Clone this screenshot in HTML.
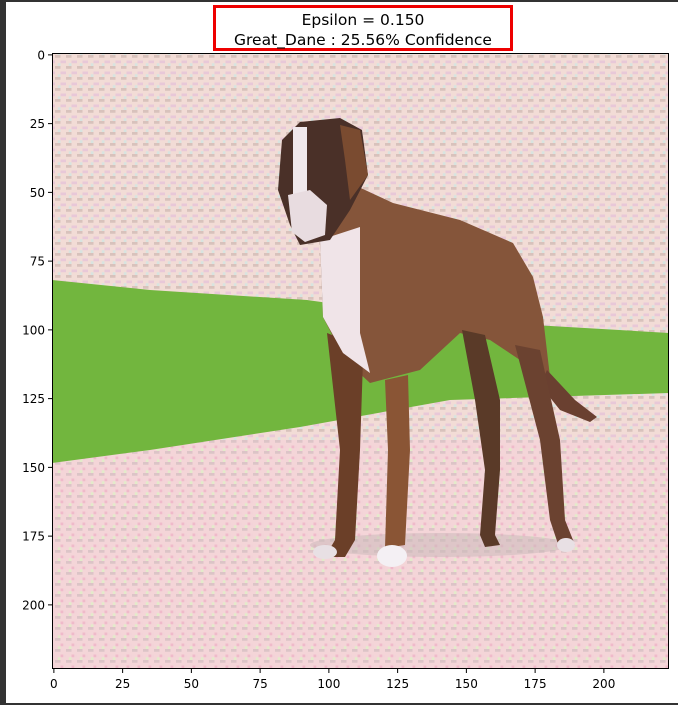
<!DOCTYPE html>
<html><head><meta charset="utf-8"><style>
html,body{margin:0;padding:0;background:#fff;}
body{width:678px;height:705px;overflow:hidden;position:relative;font-family:"DejaVu Sans","Liberation Sans",sans-serif;}
</style></head><body>
<svg width="678" height="705" viewBox="0 0 678 705" xmlns="http://www.w3.org/2000/svg">
<defs>
<pattern id="noise" width="11" height="11" patternUnits="userSpaceOnUse">
<rect width="11" height="11" fill="#f2dcd6"/>
<rect x="0" y="0" width="5.5" height="2.75" fill="#d8c2bc"/>
<rect x="5.5" y="5.5" width="5.5" height="2.75" fill="#e8c8d8"/>
<rect x="2.75" y="8.25" width="2.75" height="2.75" fill="#d8e4e0"/>
</pattern>
<pattern id="noise2" width="11" height="11" patternUnits="userSpaceOnUse">
<rect width="11" height="11" fill="#f4d4d8"/>
<rect x="0" y="0" width="5.5" height="2.75" fill="#dcc4c8"/>
<rect x="5.5" y="5.5" width="2.75" height="2.75" fill="#f0b8c8"/>
<rect x="2.75" y="8.25" width="2.75" height="2.75" fill="#e4ecc8"/>
</pattern>
</defs>
<rect x="0" y="0" width="678" height="2" fill="#333"/>
<rect x="0" y="0" width="6" height="705" fill="#333"/>
<rect x="0" y="703" width="678" height="2" fill="#333"/>

<g>
<rect x="52" y="53" width="617" height="616" fill="url(#noise)"/>
<rect x="52" y="440" width="617" height="229" fill="url(#noise2)" opacity="0.9"/>
<polygon points="52,280 150,290 307,300 450,320 669,333 669,393 450,400 300,427 150,450 52,463" fill="#72b63e"/>
<ellipse cx="440" cy="545" rx="130" ry="12" fill="#c8b8b8" opacity="0.5"/>
<g>
<polygon points="350,183 393,203 460,220 513,243 533,277 543,317 550,377 540,380 520,360 490,340 460,333 420,370 370,383 345,360 323,317 320,240 345,200" fill="#85553a"/>
<polygon points="547,370 575,400 597,417 590,422 560,410 540,385" fill="#6a4030"/>
<polygon points="327,333 345,340 363,360 360,450 355,540 345,557 325,557 335,540 340,450" fill="#6b3f28"/>
<polygon points="385,380 408,375 410,450 405,545 385,548 388,450" fill="#8a5535"/>
<polygon points="462,330 485,335 500,400 500,470 495,535 500,545 485,547 480,535 485,470 475,400" fill="#5a3a28"/>
<polygon points="515,345 540,350 560,440 565,520 575,545 560,550 550,520 540,440" fill="#6b4230"/>
<polygon points="320,240 360,227 360,333 370,373 343,353 323,317" fill="#f0e4e8"/>
<polygon points="282,140 300,122 340,118 362,130 368,175 350,210 330,240 300,245 290,225 278,190" fill="#4a3028"/>
<polygon points="340,125 360,130 368,175 350,200 345,160" fill="#7a4b30"/>
<rect x="293" y="127" width="14" height="73" fill="#f0e8ec"/>
<polygon points="288,195 310,190 327,205 325,235 305,242 292,232" fill="#e8dce0"/>
<ellipse cx="392" cy="556" rx="15" ry="11" fill="#f4f0f4"/>
<ellipse cx="325" cy="552" rx="12" ry="7" fill="#e8e0e4"/>
<ellipse cx="566" cy="545" rx="9" ry="7" fill="#e8e0e4"/>
</g>
</g>
<rect x="52.5" y="53.5" width="616" height="615" fill="none" stroke="#000" stroke-width="1"/>

<g id="xticks" font-size="12" fill="#000" text-anchor="middle"></g>
<g id="yticks" font-size="12" fill="#000" text-anchor="end"></g>

<rect x="214.5" y="6.5" width="297" height="43" fill="#fff" stroke="#e00" stroke-width="3"/>
<text x="363" y="25" font-size="15.5" text-anchor="middle">Epsilon = 0.150</text>
<text x="363" y="45" font-size="15.5" text-anchor="middle">Great_Dane : 25.56% Confidence</text>
</svg>
<script>
const xTicks=[0,25,50,75,100,125,150,175,200];
const yTicks=[0,25,50,75,100,125,150,175,200];
const x0=52.5,y0=53.5,s=616/224;
function sx(v){return x0+(v+0.5)*s;}
function sy(v){return y0+(v+0.5)*s;}
const NS="http://www.w3.org/2000/svg";
const gx=document.getElementById('xticks'),gy=document.getElementById('yticks');
xTicks.forEach(v=>{
 const l=document.createElementNS(NS,'line');
 l.setAttribute('x1',sx(v));l.setAttribute('x2',sx(v));l.setAttribute('y1',669);l.setAttribute('y2',673);l.setAttribute('stroke','#000');
 
 
 gx.appendChild(l);
 const t=document.createElementNS(NS,'text');
 t.setAttribute('x',sx(v));t.setAttribute('y',688);t.textContent=v;
 
 
 gx.appendChild(t);
});
yTicks.forEach(v=>{
 const l=document.createElementNS(NS,'line');
 l.setAttribute('x1',48);l.setAttribute('x2',52);l.setAttribute('y1',sy(v));l.setAttribute('y2',sy(v));l.setAttribute('stroke','#000');
 
 
 gy.appendChild(l);
 const t=document.createElementNS(NS,'text');
 t.setAttribute('x',45);t.setAttribute('y',sy(v)+4.5);t.textContent=v;
 
 
 gy.appendChild(t);
});
</script>
</body></html>
